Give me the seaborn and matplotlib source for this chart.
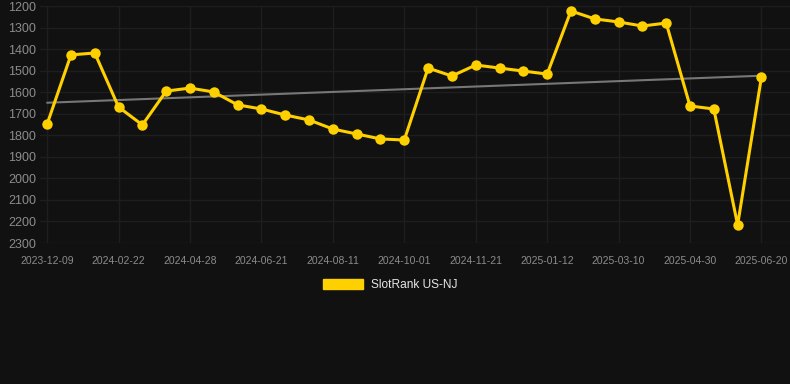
import numpy as np
import pandas as pd
import matplotlib.pyplot as plt
import seaborn as sns

# rank values, one point per sample (evenly spaced)
ranks = [1748, 1427, 1418, 1669, 1752, 1595, 1581, 1599, 1659, 1678,
         1706, 1729, 1771, 1794, 1817, 1822, 1488, 1525, 1474, 1488,
         1502, 1516, 1223, 1260, 1274, 1293, 1279, 1664, 1678, 2216, 1530]
tick_labels = ['2023-12-09', '2024-02-22', '2024-04-28', '2024-06-21',
               '2024-08-11', '2024-10-01', '2024-11-21', '2025-01-12',
               '2025-03-10', '2025-04-30', '2025-06-20']
y_ticks = list(range(1200, 2301, 100))
series_name = 'SlotRank US-NJ'

bg = '#111111'
gold = '#FFD000'

df = pd.DataFrame({'idx': np.arange(len(ranks)), 'rank': ranks})

sns.set_style('dark')
plt.rcParams['font.family'] = ['Liberation Sans', 'DejaVu Sans']

fig = plt.figure(figsize=(7.9, 3.84), dpi=100, facecolor=bg)
ax = fig.add_axes([40 / 790, 1 - 243 / 384, 750 / 790, 237 / 384])
ax.set_facecolor(bg)

# trend line from a linear fit
coef = np.polyfit(df['idx'], df['rank'], 1)
trend = np.polyval(coef, df['idx'])
ax.plot(df['idx'], trend, color='#777777', lw=1.5, zorder=2)

sns.lineplot(data=df, x='idx', y='rank', color=gold, lw=2.2, marker='o',
             markersize=7.5, markeredgewidth=0, ax=ax, zorder=3,
             label=series_name, legend=False)

ax.set_ylim(2300, 1200)
ax.set_xlim(-0.3, len(ranks) - 1 + 1.2)
ax.set_yticks(y_ticks)
ax.set_xticks(np.arange(0, len(ranks), 3))
ax.set_xticklabels(tick_labels)
ax.grid(True, color='#1e1e1e', lw=1.0)
for s in ax.spines.values():
    s.set_visible(False)
ax.tick_params(axis='y', colors='#8c8c8c', labelsize=9, length=0, pad=3)
ax.tick_params(axis='x', colors='#8c8c8c', labelsize=7.5, length=0, pad=9)
ax.set_xlabel('')
ax.set_ylabel('')

handle = plt.Rectangle((0, 0), 1, 1, color=gold)
leg = fig.legend([handle], [series_name], loc='center',
                 bbox_to_anchor=(390 / 790, 1 - 285 / 384),
                 frameon=False, fontsize=8.6, handlelength=3.4, handleheight=1.0,
                 handletextpad=0.6)
for t in leg.get_texts():
    t.set_color('#e6e6e6')

fig.savefig('out.png', dpi=100, facecolor=bg)
